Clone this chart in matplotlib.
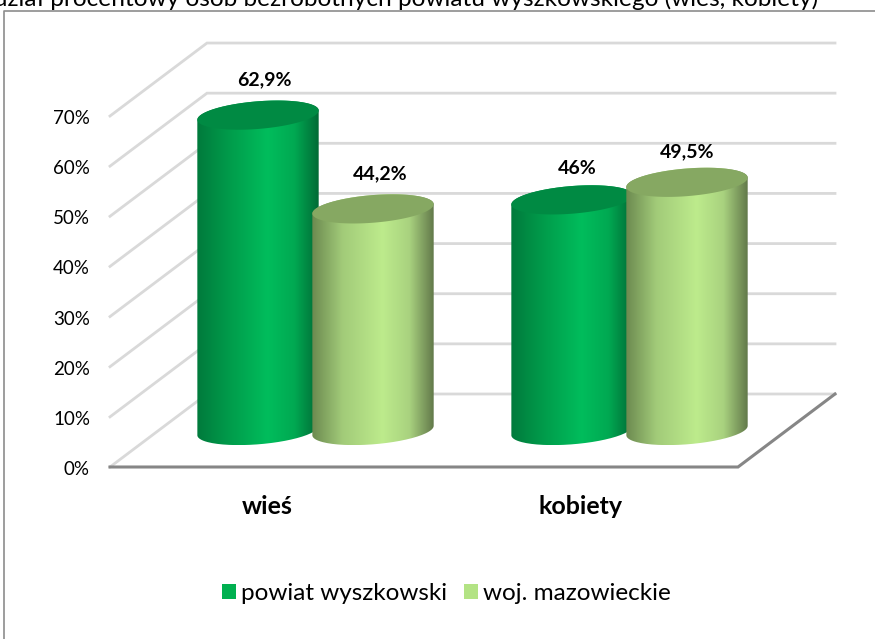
import numpy as np
import matplotlib
matplotlib.use("Agg")
import matplotlib.pyplot as plt
from matplotlib.colors import LinearSegmentedColormap
from matplotlib.lines import Line2D
from matplotlib.patches import Patch, PathPatch, Polygon
from matplotlib.path import Path

plt.rcParams["font.family"] = ["Lato", "DejaVu Sans"]

# ---------------------------------------------------------------------------
# Data
# ---------------------------------------------------------------------------
title = "Udział procentowy osób bezrobotnych powiatu wyszkowskiego (wieś, kobiety)"
categories = ["wieś", "kobiety"]
series_names = ["powiat wyszkowski", "woj. mazowieckie"]
powiat_values = [62.9, 46]
mazowieckie_values = [44.2, 49.5]
y_ticks = [0, 10, 20, 30, 40, 50, 60, 70]

# ---------------------------------------------------------------------------
# Styles and 3D box geometry
# ---------------------------------------------------------------------------
W, H = 875, 639
PX_PER_CAT = 314.0
PX_PER_PCT = 5.014
X0_PX, Y0_PX = 110, 467

DEPTH_X = 97 / PX_PER_CAT   # full depth of the box, in category units
DEPTH_Y = 73 / PX_PER_PCT   # full depth of the box, in percent units
BAR_DEPTH = 0.5             # cylinders stand half way into the box
BAR_RAD_X = 57.5 / PX_PER_CAT
BAR_RAD_D = 0.2
BAR_OFFSET = 57.5 / PX_PER_CAT

SERIES_STYLE = [
    {"stops": ["#007A3C", "#009A4A", "#00BD5C", "#00A952", "#006A35"],
     "cap": "#008A43", "legend": "#00B050"},
    {"stops": ["#6C8A50", "#A2CB79", "#BDEB8C", "#A9D27F", "#62794A"],
     "cap": "#86A862", "legend": "#B3E384"},
]
STOP_POS = [0.0, 0.25, 0.58, 0.8, 1.0]
GRID = "#D9D9D9"
FLOOR = "#868686"


def px_x(px):
    return (px - X0_PX) / PX_PER_CAT


def px_y(px):
    return (Y0_PX - px) / PX_PER_PCT


def ring(cx, value, t):
    """Circle lying in the box floor plane, at height value, sheared by depth."""
    x = cx + DEPTH_X * BAR_DEPTH + BAR_RAD_X * np.cos(t) + DEPTH_X * BAR_RAD_D * np.sin(t)
    y = value + DEPTH_Y * BAR_DEPTH + DEPTH_Y * BAR_RAD_D * np.sin(t)
    return np.column_stack([x, y])


def draw_cylinder(ax, cx, value, style, z):
    # silhouette tangent angle of the sheared circle
    t0 = np.arctan2(DEPTH_X * BAR_RAD_D, BAR_RAD_X)
    upper = ring(cx, value, np.linspace(t0, t0 + np.pi, 80))
    lower = ring(cx, 0, np.linspace(t0 + np.pi, t0 + 2 * np.pi, 80))
    outline = np.vstack([upper, lower, upper[:1]])
    clip = PathPatch(Path(outline), transform=ax.transData, fc="none", ec="none")
    ax.add_patch(clip)

    cmap = LinearSegmentedColormap.from_list("cyl", list(zip(STOP_POS, style["stops"])))
    extent = (outline[:, 0].min(), outline[:, 0].max(), outline[:, 1].min(), outline[:, 1].max())
    img = ax.imshow(np.linspace(0, 1, 256)[None, :], cmap=cmap, extent=extent,
                    aspect="auto", zorder=z, interpolation="bilinear")
    img.set_clip_path(clip)

    ax.add_patch(Polygon(ring(cx, value, np.linspace(0, 2 * np.pi, 160)), closed=True,
                         fc=style["cap"], ec="none", zorder=z + 0.1))


fig = plt.figure(figsize=(W / 100, H / 100), dpi=100)
ax = fig.add_axes([0, 0, 1, 1])
ax.set_xlim(px_x(0), px_x(W))
ax.set_ylim(px_y(H), px_y(0))
ax.axis("off")

# Chart frame (the right and bottom sides are cut off in the source)
ax.add_line(Line2D([4 / W, 4 / W, 1], [0, 1 - 11 / H, 1 - 11 / H], transform=ax.transAxes,
                   color="#8C8C8C", lw=1.2, zorder=1, clip_on=False))

# Grid on the side and back walls
for v in y_ticks:
    ax.plot([0, DEPTH_X, 2 + DEPTH_X], [v, v + DEPTH_Y, v + DEPTH_Y],
            color=GRID, lw=2.0, solid_joinstyle="miter", zorder=2)

# Floor edges
ax.plot([0, 2, 2 + DEPTH_X], [0, 0, DEPTH_Y], color=FLOOR, lw=2.2,
        solid_joinstyle="miter", zorder=3)

# Cylinders and value labels
label_nudge = [[(6, 35), (7, 35)], [(5, 31), (0, 31)]]
for i, cat in enumerate(categories):
    centre = i + 0.5
    for j, values in enumerate([powiat_values, mazowieckie_values]):
        cx = centre + (j * 2 - 1) * BAR_OFFSET
        value = values[i]
        draw_cylinder(ax, cx, value, SERIES_STYLE[j], 4 + i * 2 + j)
        text = f"{value:g}".replace(".", ",") + "%"
        dx, dy = label_nudge[i][j]
        ax.annotate(text, (cx + DEPTH_X * BAR_DEPTH, value + DEPTH_Y * BAR_DEPTH),
                    xytext=(dx * 0.72, dy * 0.72), textcoords="offset points",
                    ha="center", va="center", fontsize=14, fontweight="bold",
                    color="black", zorder=20)
    ax.text(centre, px_y(506), cat, ha="center", va="center", fontsize=18,
            fontweight="bold", color="black")

# Y tick labels
for v in y_ticks:
    ax.text(px_x(90), v - 0.5, f"{v}%", ha="right", va="center", fontsize=13.5, color="black")

# Title, clipped by the top edge of the image
ax.text(px_x(818), px_y(6), title, ha="right", va="baseline", fontsize=17.6, color="black")

# Legend
handles = [Patch(fc=s["legend"], ec="none") for s in SERIES_STYLE]
ax.legend(handles, series_names, loc="center", bbox_to_anchor=(446.5 / W, 1 - 594 / H),
          ncol=2, frameon=False, fontsize=17.5, handlelength=0.58, handleheight=0.58,
          handletextpad=0.2, columnspacing=0.7, borderpad=0)

fig.savefig("out.png", dpi=100)
